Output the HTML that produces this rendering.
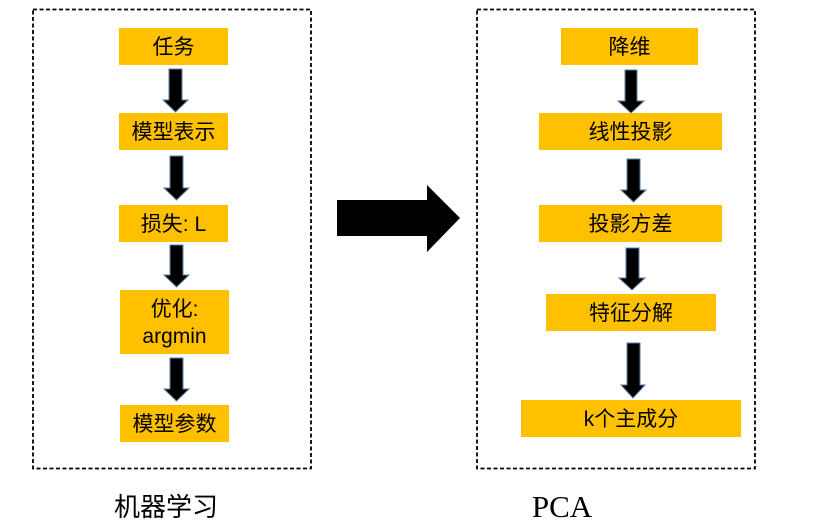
<!DOCTYPE html>
<html><head><meta charset="utf-8"><style>
html,body{margin:0;padding:0;background:#fff;}
svg{display:block}
.n{font-family:"Liberation Sans","Noto Sans CJK SC",sans-serif;font-size:21px;fill:#000;text-anchor:middle;}
</style></head><body>
<svg width="830" height="527" viewBox="0 0 830 527" xmlns="http://www.w3.org/2000/svg">
<g fill="none" stroke="#000" stroke-width="1.8" stroke-dasharray="4,2.5">
<rect x="33" y="9.5" width="278" height="459"/>
<rect x="477" y="9.5" width="278" height="459"/>
</g>
<g fill="#FFC000">
<rect x="119" y="28" width="109" height="37"/>
<rect x="119" y="113" width="109" height="37"/>
<rect x="119" y="205" width="109" height="37"/>
<rect x="120" y="290" width="109" height="64"/>
<rect x="120" y="405" width="109" height="37"/>
<rect x="561" y="28" width="137" height="37"/>
<rect x="539" y="113" width="183" height="37"/>
<rect x="539" y="205" width="183" height="37"/>
<rect x="546" y="294" width="170" height="37"/>
<rect x="521" y="400" width="220" height="37"/>
</g>
<g fill="#000" stroke="#5b7fa6" stroke-width="1">
<polygon points="169,69 182,69 182,100 188,100 175.5,112 163,100 169,100"/>
<polygon points="170,156 183,156 183,188 189,188 176.5,200 164,188 170,188"/>
<polygon points="170,245 183,245 183,275 189,275 176.5,287 164,275 170,275"/>
<polygon points="170,358 183,358 183,389 189,389 176.5,401 164,389 170,389"/>
<polygon points="625,70 637,70 637,101 644,101 631,113 618,101 625,101"/>
<polygon points="627,159 640,159 640,190 646,190 633.5,202 621,190 627,190"/>
<polygon points="626,248 639,248 639,278 645,278 632,290 619,278 626,278"/>
<polygon points="627,343 640,343 640,385 645,385 633,398 621,385 627,385"/>
</g>
<polygon fill="#000" points="337,200 427,200 427,185 460,218 427,252 427,236 337,236"/>
<g class="n">
<text x="173.5" y="54">任务</text>
<text x="173.5" y="139">模型表示</text>
<text x="173.5" y="231">损失: L</text>
<text x="174.5" y="316">优化:</text>
<text x="174.5" y="343">argmin</text>
<text x="174.5" y="431">模型参数</text>
<text x="629.5" y="54">降维</text>
<text x="630.5" y="139">线性投影</text>
<text x="630.5" y="231">投影方差</text>
<text x="631" y="320">特征分解</text>
<text x="631" y="426">k个主成分</text>
</g>
<text x="166" y="516" font-family="Liberation Sans,Noto Sans CJK SC,sans-serif" font-size="26" text-anchor="middle">机器学习</text>
<text x="562" y="517" font-family="Liberation Serif,serif" font-size="31" text-anchor="middle">PCA</text>
</svg>
</body></html>
